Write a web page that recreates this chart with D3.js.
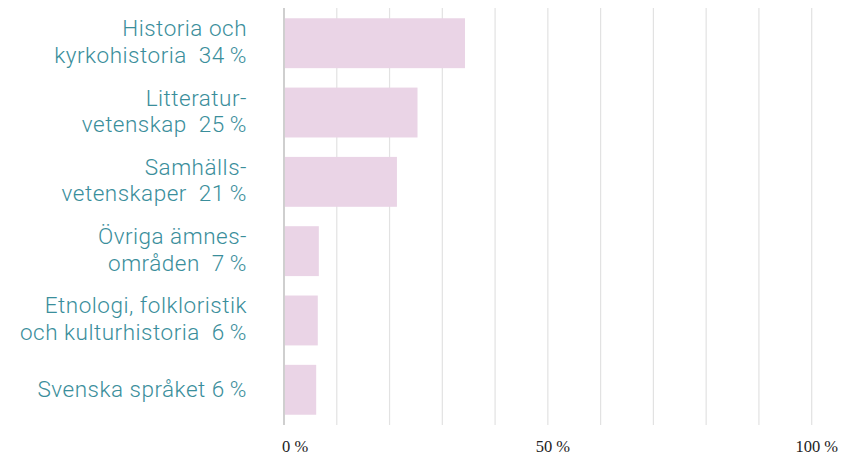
<!DOCTYPE html>
<html>
<head>
<meta charset="utf-8">
<script src="https://cdn.jsdelivr.net/npm/d3@7/dist/d3.min.js"></script>
<style>
  html, body { margin: 0; padding: 0; background: #ffffff; }
  svg { display: block; }
</style>
</head>
<body>
<svg id="chart" width="845" height="456"></svg>
<script>
// ---- Data ----
const categoryLines = [
  ["Historia och", "kyrkohistoria\u00A0 34\u2009%"],
  ["Litteratur-", "vetenskap\u00A0 25\u2009%"],
  ["Samhälls-", "vetenskaper\u00A0 21\u2009%"],
  ["Övriga ämnes-", "områden\u00A0 7\u2009%"],
  ["Etnologi, folkloristik", "och kulturhistoria\u00A0 6\u2009%"],
  ["Svenska språket 6\u2009%"]
];
const values = [34.3, 25.3, 21.4, 6.6, 6.4, 6.1];
const gridTicks = [0, 10, 20, 30, 40, 50, 60, 70, 80, 90, 100];
const axisTicks = [0, 50, 100];
const axisTickLabels = ["0 %", "50 %", "100 %"];

// ---- Layout ----
const svg = d3.select("#chart");
const x = d3.scaleLinear().domain([0, 100]).range([284, 811.7]);
const y = d3.scaleBand()
  .domain(d3.range(values.length))
  .range([8, 425])
  .paddingInner(0.28)
  .paddingOuter(0.148);

// gridlines
svg.append("g").selectAll("line")
  .data(gridTicks)
  .join("line")
  .attr("x1", d => x(d)).attr("x2", d => x(d))
  .attr("y1", 8).attr("y2", 425)
  .attr("stroke", d => d === 0 ? "#cfcfcf" : "#e2e2e2")
  .attr("stroke-width", d => d === 0 ? 2 : 1.2);

// bars
svg.append("g").selectAll("rect")
  .data(values)
  .join("rect")
  .attr("x", x(0) + 1)
  .attr("y", (d, i) => y(i))
  .attr("width", d => x(d) - x(0) - 1)
  .attr("height", y.bandwidth())
  .attr("fill", "#ead4e6");

// category labels
const lab = svg.append("g")
  .attr("font-family", "Roboto, 'Noto Sans', sans-serif")
  .attr("font-size", 22.5)
  .attr("font-weight", 300)
  .attr("letter-spacing", 0.5)
  .attr("fill", "#3a8e9b")
  .attr("text-anchor", "end");

categoryLines.forEach((lines, i) => {
  const cy = y(i) + y.bandwidth() / 2;
  const t = lab.append("text").attr("x", 247).style("white-space", "pre");
  if (lines.length === 1) {
    t.append("tspan").attr("x", 247).attr("y", cy + 7.5).text(lines[0]);
  } else {
    t.append("tspan").attr("x", 247).attr("y", cy - 7).text(lines[0]);
    t.append("tspan").attr("x", 247).attr("y", cy + 19.5).text(lines[1]);
  }
});

// x axis labels
svg.append("g")
  .attr("font-family", "'Liberation Serif', 'DejaVu Serif', serif")
  .attr("font-size", 16.5)
  .attr("fill", "#222")
  .selectAll("text")
  .data(axisTicks)
  .join("text")
  .attr("x", (d, i) => i === 0 ? x(d) - 2 : x(d) + 5)
  .attr("y", 451.5)
  .attr("text-anchor", (d, i) => i === 0 ? "start" : "middle")
  .text((d, i) => axisTickLabels[i]);
</script>
</body>
</html>
